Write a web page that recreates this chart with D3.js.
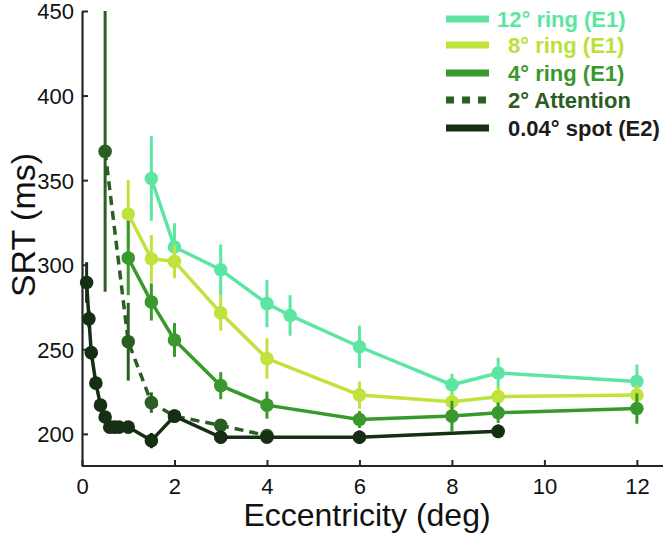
<!DOCTYPE html>
<html>
<head>
<meta charset="utf-8">
<script src="https://cdn.jsdelivr.net/npm/d3@7"></script>
<style>
  html, body { margin: 0; padding: 0; background: #fff; }
  svg { display: block; font-family: "Liberation Sans", Arial, sans-serif; }
</style>
</head>
<body>
<svg id="chart" width="663" height="534"></svg>
<script>
// ---- data ----
const ecc12 = [1.5, 2, 3, 4, 4.5, 6, 8, 9, 12];
const srt12 = [351, 310.5, 297, 277, 270, 251.5, 229, 236, 231];
const err12 = [25, 14, 15, 14, 12, 12.5, 6.5, 9, 10];

const ecc8 = [1, 1.5, 2, 3, 4, 6, 8, 9, 12];
const srt8 = [330, 303.5, 302, 271.5, 244.5, 223, 219, 222, 223];
const err8 = [20, 14, 10, 10.5, 12, 8, 5, 6, 6];

const ecc4 = [1, 1.5, 2, 3, 4, 6, 8, 9, 12];
const srt4 = [304, 278, 255.5, 228.5, 217, 208.5, 210.5, 212.5, 215];
const err4 = [22, 11, 10, 8, 8, 5, 9, 6, 9];

const eccAtt = [0.5, 1, 1.5, 2, 3, 4];
const srtAtt = [367, 254.5, 218.5, 210.5, 205, 199];
const errAtt = [83, 23, 6, 3, 3, 2];

const eccSpot = [0.1, 0.15, 0.2, 0.3, 0.4, 0.5, 0.6, 0.7, 0.8, 1, 1.5, 2, 3, 4, 6, 9];
const srtSpot = [289.5, 268, 248, 230, 217, 210, 204, 204, 204, 204, 196, 210.5, 198, 198, 198, 201.5];
const errSpot = [12, 5, 4, 3, 3, 3, 2, 2, 2, 2, 4.5, 3, 4, 2, 4, 4];

const legendLabels = ["12° ring (E1)", "8° ring (E1)", "4° ring (E1)", "2° Attention", "0.04° spot (E2)"];
const xTicks = [0, 2, 4, 6, 8, 10, 12];
const yTicks = [200, 250, 300, 350, 400, 450];

// ---- styles ----
const series = [
  { ecc: ecc12, srt: srt12, err: err12, color: "#5ce6a2", text: "#5ce6a2", dash: null },
  { ecc: ecc8, srt: srt8, err: err8, color: "#bfe33c", text: "#bbe03a", dash: null },
  { ecc: ecc4, srt: srt4, err: err4, color: "#3a992c", text: "#3a982c", dash: null },
  { ecc: eccAtt, srt: srtAtt, err: errAtt, color: "#2b5e22", text: "#2b5c22", dash: "9,6" },
  { ecc: eccSpot, srt: srtSpot, err: errSpot, color: "#162e13", text: "#1c1c1c", dash: null }
];

const svg = d3.select("#chart");
const x = d3.scaleLinear().domain([0, 12.5]).range([82, 660]);
const y = d3.scaleLinear().domain([181, 450]).range([466, 11]);

const axisColor = "#262626";

// axes
const gx = svg.append("g").attr("transform", `translate(0,${y.range()[0]})`)
  .call(d3.axisBottom(x).tickValues(xTicks).tickFormat(d3.format("d")).tickSizeInner(-6).tickSizeOuter(0).tickPadding(12));
gx.select(".domain").attr("stroke", axisColor).attr("stroke-width", 2.2).attr("d", `M${x.range()[0]},0H663`);
gx.selectAll(".tick line").attr("stroke", axisColor).attr("stroke-width", 2);
gx.selectAll(".tick text").attr("font-size", 22).attr("fill", "#111").attr("dy", "0.71em");

const gy = svg.append("g").attr("transform", `translate(${x.range()[0]},0)`)
  .call(d3.axisLeft(y).tickValues(yTicks).tickFormat(d3.format("d")).tickSizeInner(-6).tickSizeOuter(0).tickPadding(8));
gy.select(".domain").attr("stroke", axisColor).attr("stroke-width", 2.2);
gy.selectAll(".tick line").attr("stroke", axisColor).attr("stroke-width", 2);
gy.selectAll(".tick text").attr("font-size", 22).attr("fill", "#111").attr("dy", "0.36em");

// axis titles
svg.append("text").attr("x", 367).attr("y", 526).attr("text-anchor", "middle")
  .attr("font-size", 32).attr("fill", "#111").text("Eccentricity (deg)");
svg.append("text").attr("transform", "translate(35,225) rotate(-90)").attr("text-anchor", "middle")
  .attr("font-size", 34).attr("fill", "#111").text("SRT (ms)");

// series
const line = d3.line().x(d => x(d[0])).y(d => y(d[1]));
series.forEach(s => {
  const g = svg.append("g");
  const pts = s.ecc.map((e, i) => [e, s.srt[i], s.err[i]]);
  g.append("path").attr("d", line(pts)).attr("fill", "none")
    .attr("stroke", s.color).attr("stroke-width", 3.5)
    .attr("stroke-dasharray", s.dash);
  g.selectAll("line.err").data(pts).join("line").attr("class", "err")
    .attr("x1", d => x(d[0])).attr("x2", d => x(d[0]))
    .attr("y1", d => y(d[1] - d[2])).attr("y2", d => y(d[1] + d[2]))
    .attr("stroke", s.color).attr("stroke-width", 3);
  g.selectAll("circle").data(pts).join("circle")
    .attr("cx", d => x(d[0])).attr("cy", d => y(d[1])).attr("r", 6.8)
    .attr("fill", s.color);
});

// legend
const legRows = [19, 45, 73, 100, 128];
const legTextX = [497, 508, 508, 508, 508];
const leg = svg.append("g");
series.forEach((s, i) => {
  leg.append("line").attr("x1", 446).attr("x2", 489)
    .attr("y1", legRows[i]).attr("y2", legRows[i])
    .attr("stroke", s.color).attr("stroke-width", 7)
    .attr("stroke-dasharray", s.dash ? "8,8" : null);
  leg.append("text").attr("x", legTextX[i]).attr("y", legRows[i] + 7.5)
    .attr("font-size", 22).attr("font-weight", "bold").attr("fill", s.text)
    .text(legendLabels[i]);
});
</script>
</body>
</html>
